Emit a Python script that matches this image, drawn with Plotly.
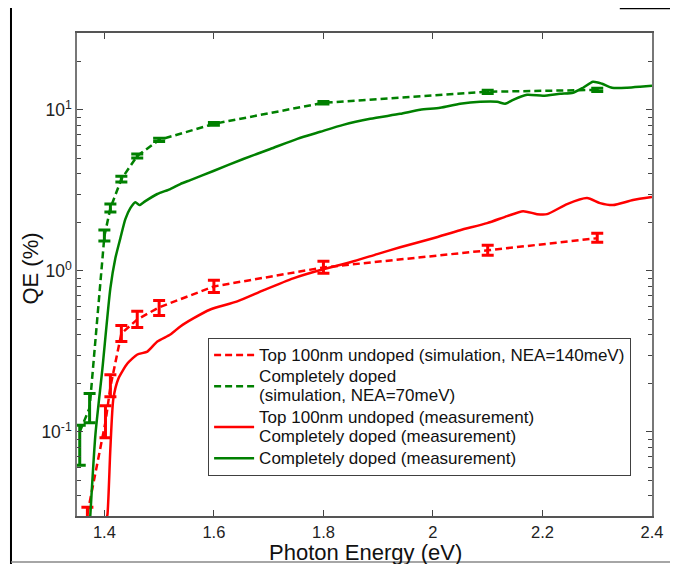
import plotly.graph_objects as go

# Simulation, top 100nm undoped (NEA=140meV)
sim_red_x = [1.369, 1.402, 1.411, 1.431, 1.46, 1.50, 1.60, 1.80, 2.10, 2.30]
sim_red_y = [0.031, 0.115, 0.19, 0.408, 0.499, 0.593, 0.80, 1.05, 1.34, 1.594]
sim_red_ep = [0.003, 0.030, 0.036, 0.049, 0.061, 0.062, 0.073, 0.096, 0.10, 0.116]
sim_red_em = [0.008, 0.023, 0.025, 0.044, 0.054, 0.065, 0.066, 0.085, 0.09, 0.089]

# Simulation, completely doped (NEA=70meV)
sim_grn_x = [1.355, 1.373, 1.40, 1.411, 1.431, 1.46, 1.50, 1.60, 1.80, 2.10, 2.30]
sim_grn_y = [0.10, 0.141, 1.64, 2.45, 3.71, 5.17, 6.5, 8.18, 11.06, 12.95, 13.3]
sim_grn_ep = [0.010, 0.032, 0.15, 0.15, 0.15, 0.15, 0.15, 0.15, 0.2, 0.3, 0.3]
sim_grn_em = [0.038, 0.027, 0.11, 0.13, 0.15, 0.15, 0.15, 0.15, 0.2, 0.3, 0.3]

# Measurement, top 100nm undoped
meas_red_x = [1.4036, 1.4055, 1.4109, 1.4164, 1.4255, 1.442, 1.4602, 1.4785, 1.4967,
              1.5204, 1.5387, 1.5624, 1.5934, 1.6427, 1.6901, 1.7449, 1.7996, 1.8489,
              1.8982, 1.9401, 2.0004, 2.0496, 2.0989, 2.1354, 2.1646, 2.1901, 2.2084,
              2.2449, 2.2814, 2.3051, 2.3288, 2.3653, 2.40]
meas_red_y = [0.029, 0.0304, 0.0783, 0.1607, 0.2138, 0.2655, 0.302, 0.315, 0.364,
              0.402, 0.451, 0.506, 0.575, 0.646, 0.756, 0.898, 1.022, 1.13,
              1.27, 1.40, 1.594, 1.788, 1.977, 2.186, 2.348, 2.249, 2.249,
              2.596, 2.83, 2.634, 2.56, 2.75, 2.87]

# Measurement, completely doped
meas_grn_x = [1.374, 1.3836, 1.3964, 1.4109, 1.4201, 1.4292, 1.4383, 1.4474, 1.4566,
              1.4639, 1.4748, 1.4967, 1.5204, 1.5387, 1.557, 1.599, 1.6537, 1.703,
              1.7522, 1.7942, 1.8361, 1.8854, 1.9401, 1.9766, 2.0131, 2.0496, 2.0861,
              2.1172, 2.1318, 2.1464, 2.1719, 2.2011, 2.2321, 2.2558, 2.2741, 2.2923,
              2.3088, 2.327, 2.3544, 2.3781, 2.40]
meas_grn_y = [0.029, 0.0958, 0.247, 0.778, 1.20, 1.594, 2.094, 2.45, 2.67,
              2.56, 2.71, 3.00, 3.22, 3.46, 3.66, 4.17, 4.95, 5.71,
              6.60, 7.30, 8.06, 8.79, 9.44, 10.0, 10.29, 10.90, 11.22,
              11.22, 10.90, 11.54, 12.40, 12.23, 12.58, 12.76, 13.71, 14.95,
              14.52, 13.71, 13.71, 13.90, 14.11]

x_ticks = [1.4, 1.6, 1.8, 2.0, 2.2, 2.4]
x_tick_text = ["1.4", "1.6", "1.8", "2", "2.2", "2.4"]
y_ticks = [0.1, 1, 10]
y_tick_text = ["10<sup>-1</sup>", "10<sup>0</sup>", "10<sup>1</sup>"]
y_minor = [0.03, 0.04, 0.05, 0.06, 0.07, 0.08, 0.09,
           0.2, 0.3, 0.4, 0.5, 0.6, 0.7, 0.8, 0.9,
           2, 3, 4, 5, 6, 7, 8, 9, 20, 30]

legend_names = [
    "Top 100nm undoped (simulation, NEA=140meV)",
    "Completely doped<br>(simulation, NEA=70meV)",
    "Top 100nm undoped (measurement)<br>Completely doped (measurement)",
    "Completely doped (measurement)",
]

RED = "#ff0000"
GREEN = "#008000"
DASH = "7px,4px"
FONT = "Liberation Sans, Arial, sans-serif"


def big(name):
    return "<br>".join('<span style="font-size:17px">%s</span>' % p for p in name.split("<br>"))


fig = go.Figure()

fig.add_trace(go.Scatter(
    x=sim_red_x, y=sim_red_y, mode="lines",
    line=dict(color=RED, width=2.5, dash=DASH),
    error_y=dict(type="data", symmetric=False, array=sim_red_ep, arrayminus=sim_red_em,
                 color=RED, thickness=3, width=6),
    name=big(legend_names[0]),
))
fig.add_trace(go.Scatter(
    x=sim_grn_x, y=sim_grn_y, mode="lines",
    line=dict(color=GREEN, width=2.5, dash=DASH),
    error_y=dict(type="data", symmetric=False, array=sim_grn_ep, arrayminus=sim_grn_em,
                 color=GREEN, thickness=3, width=6),
    name=big(legend_names[1]),
))
fig.add_trace(go.Scatter(
    x=meas_red_x, y=meas_red_y, mode="lines",
    line=dict(color=RED, width=2.5, shape="spline", smoothing=0.6),
    name=big(legend_names[2]),
))
fig.add_trace(go.Scatter(
    x=meas_grn_x, y=meas_grn_y, mode="lines",
    line=dict(color=GREEN, width=2.5, shape="spline", smoothing=0.6),
    name=big(legend_names[3]),
))

axis_font = dict(family=FONT, size=16.5, color="#222222")
title_font = dict(family=FONT, size=22, color="#111111")

fig.update_xaxes(
    range=[1.35, 2.4], tickvals=x_ticks, ticktext=x_tick_text,
    ticks="inside", ticklen=6, tickwidth=1, tickcolor="#444444",
    showline=True, linecolor="#555555", linewidth=1.5, mirror="ticks",
    showgrid=False, zeroline=False, tickfont=axis_font,
)
fig.update_yaxes(
    type="log", range=[-1.5229, 1.4771], tickvals=y_ticks, ticktext=y_tick_text,
    ticks="inside", ticklen=6, tickwidth=1, tickcolor="#444444",
    minor=dict(tickvals=y_minor, ticks="inside", ticklen=4, tickcolor="#444444", showgrid=False),
    showline=True, linecolor="#777777", linewidth=1.5, mirror="ticks",
    showgrid=False, zeroline=False, tickfont=dict(family=FONT, size=17.5, color="#222222"),
)

fig.update_layout(
    width=670, height=556,
    margin=dict(l=69, r=26, t=25, b=48),
    plot_bgcolor="white", paper_bgcolor="white",
    font=dict(family=FONT, color="#111111"),
    legend=dict(
        x=0.228, y=0.3685, xanchor="left", yanchor="top",
        bgcolor="white", bordercolor="#404040", borderwidth=1,
        font=dict(family=FONT, size=14.5, color="#111111"),
        itemwidth=40, tracegroupgap=0,
    ),
    annotations=[
        dict(text="Photon Energy (eV)", xref="paper", yref="paper", x=0.501, y=-0.0752,
             xanchor="center", yanchor="middle", showarrow=False, font=title_font),
        dict(text="QE (%)", xref="paper", yref="paper", x=-0.0817, y=0.5124,
             xanchor="center", yanchor="middle", showarrow=False, textangle=-90,
             font=title_font),
    ],
    shapes=[
        dict(type="line", xref="paper", yref="paper", x0=-0.1148, x1=-0.1148,
             y0=1.07, y1=-0.1, line=dict(color="black", width=2)),
        dict(type="line", xref="paper", yref="paper", x0=-0.1148, x1=1.05,
             y0=-0.0952, y1=-0.0952, line=dict(color="#888888", width=1.5)),
        dict(type="line", xref="paper", yref="paper", x0=0.944, x1=1.05,
             y0=1.0507, y1=1.0507, line=dict(color="black", width=1.5)),
    ],
)

fig.write_html("out.html")
